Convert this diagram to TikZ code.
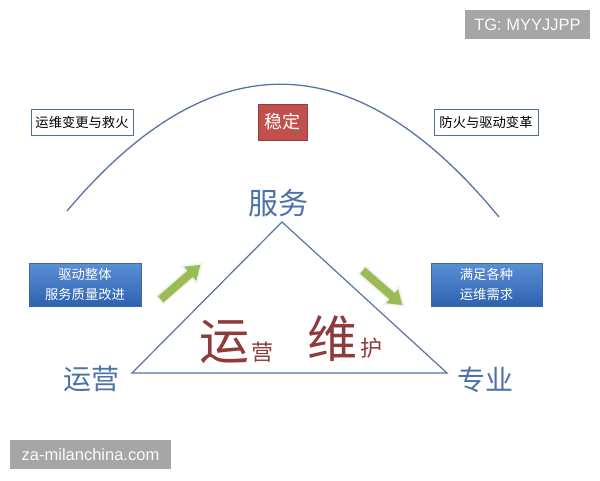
\documentclass[tikz,border=0pt]{standalone}
\usepackage{fontspec}
\setmainfont{Liberation Sans}
\newfontfamily\cjk{Noto Sans CJK SC}
\definecolor{arcblue}{HTML}{5675A2}
\definecolor{lblblue}{HTML}{4C72A8}
\definecolor{bigred}{HTML}{8E3B3B}
\definecolor{wborder}{HTML}{4F6F96}
\definecolor{redfill}{HTML}{C0504D}
\definecolor{redborder}{HTML}{9C3C3A}
\definecolor{btop}{HTML}{5A8FD6}
\definecolor{bbot}{HTML}{2E62AE}
\definecolor{bborder}{HTML}{3A68A8}
\definecolor{gfill}{HTML}{9BBB59}
\definecolor{gedge}{HTML}{EEF3E4}
\definecolor{wmgray}{HTML}{A6A6A6}
\begin{document}
\begin{tikzpicture}[x=1pt,y=-1pt,
  arcline/.style={draw=arcblue,line width=1.3pt},
  triline/.style={draw=arcblue,line width=1.2pt},
  wbox/.style={draw=wborder,fill=white,line width=1pt,inner sep=0pt,minimum height=26pt,
    font=\cjk\fontsize{13.3}{16}\selectfont,text=black},
  rbox/.style={draw=redborder,fill=redfill,line width=0.8pt,inner sep=0pt,minimum width=49pt,minimum height=36pt,
    font=\cjk\fontsize{18}{20}\selectfont,text=white},
  bbox/.style={draw=bborder,top color=btop,bottom color=bbot,line width=0.6pt,inner sep=0pt,minimum height=43pt,
    align=center,font=\cjk\fontsize{13.3}{20}\selectfont,text=white},
  lbl/.style={inner sep=0pt,text=lblblue,font=\cjk\fontsize{28}{30}\selectfont},
  bigch/.style={inner sep=0pt,text=bigred,font=\cjk\fontsize{50}{52}\selectfont},
  smallch/.style={inner sep=0pt,text=bigred,font=\cjk\fontsize{22}{24}\selectfont},
  garrow/.style={fill=gfill,draw=gedge,line width=1.6pt,line join=miter},
  wm/.style={fill=wmgray,inner sep=0pt,minimum height=29pt,text=white!96!gray,font=\fontsize{16.5}{18}\selectfont}
]
\useasboundingbox (0,0) rectangle (600,480);
\fill[white] (0,0) rectangle (600,480);

% arc
\coordinate (arcL) at (67,211);
\coordinate (arcR) at (499,217);
\draw[arcline] (arcL) .. controls (211,40) and (355,42) .. (arcR);

% top boxes
\node[wbox,minimum width=102pt] (chg) at (82,122) {运维变更与救火};
\node[rbox] (stab) at (282.5,122) {稳定};
\node[wbox,minimum width=104pt] (fire) at (486,122) {防火与驱动变革};

% triangle
\coordinate (tA) at (282,222);
\coordinate (tL) at (132,373);
\coordinate (tR) at (447,373);
\draw[triline,line join=miter] (tA) -- (tL) -- (tR) -- cycle;

% vertex labels
\node[lbl,font=\cjk\fontsize{30}{32}\selectfont] (fw) at (278,203) {服务};
\node[lbl] (yy) at (91,379) {运营};
\node[lbl] (zy) at (485,380) {专业};

% blue boxes
\node[bbox,minimum width=112pt] (drive) at (85,284.5) {驱动整体\\服务质量改进};
\node[bbox,minimum width=111pt] (meet) at (486.5,284.5) {满足各种\\运维需求};

% green arrows
\begin{scope}[shift={(160,300)},rotate=41]
  \filldraw[garrow] (0,5) -- (39,5) -- (39,11) -- (55,0) -- (39,-11) -- (39,-5) -- (0,-5) -- cycle;
\end{scope}
\begin{scope}[shift={(362,270)},rotate=-41]
  \filldraw[garrow] (0,5) -- (39,5) -- (39,11) -- (55,0) -- (39,-11) -- (39,-5) -- (0,-5) -- cycle;
\end{scope}

% inner big characters
\node[bigch] (yun) at (224,341.5) {运};
\node[smallch] (ying) at (262.5,352) {营};
\node[bigch] (wei) at (332.5,339) {维};
\node[smallch] (hu) at (371.5,348.5) {护};

% watermarks
\node[wm,minimum width=125pt] (tg) at (527.5,24.5) {TG: MYYJJPP};
\node[wm,minimum width=161pt] (za) at (90.5,454.5) {za-milanchina.com};
\end{tikzpicture}
\end{document}
